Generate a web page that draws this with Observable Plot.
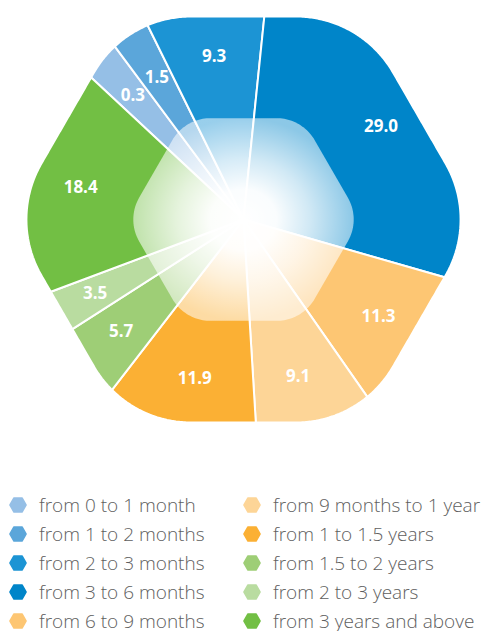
<!DOCTYPE html>
<html>
<head>
<meta charset="utf-8">
<script src="https://cdn.jsdelivr.net/npm/d3@7"></script>
<script src="https://cdn.jsdelivr.net/npm/@observablehq/plot@0.6"></script>
<style>
  body { margin: 0; background: #fff; font-family: "Open Sans", sans-serif; overflow: hidden; }
  #chart { width: 487px; height: 440px; }
  .legend { display: grid; grid-template-columns: 234px auto; grid-auto-flow: column; grid-template-rows: repeat(5, 20px);
            row-gap: 9px; margin-top: 55px; padding-left: 9px; color: #5e5e5e; font-size: 19px; font-weight: 300; line-height: 20px; }
  .item { display: flex; align-items: center; white-space: nowrap; height: 20px; }
  .item svg { flex: none; margin-right: 12px; }
</style>
</head>
<body>
<div id="chart"></div>
<div class="legend" id="legend"></div>
<script>
// ---- data ----
const categories = [
  "from 0 to 1 month", "from 1 to 2 months", "from 2 to 3 months", "from 3 to 6 months",
  "from 6 to 9 months", "from 9 months to 1 year", "from 1 to 1.5 years", "from 1.5 to 2 years",
  "from 2 to 3 years", "from 3 years and above"
];
const values = [0.3, 1.5, 9.3, 29.0, 11.3, 9.1, 11.9, 5.7, 3.5, 18.4];
const colors = [
  "#95bfe6", "#5ba6da", "#1c94d4", "#0085c9",
  "#fdc673", "#fdd597", "#fbb034", "#9ece76",
  "#b9dca0", "#72bf44"
];

// ---- layout rules ----
const minShare = 3;               // tiny slices widened so their labels fit
const startDeg = -47;             // pie rotation
const outerR = 234.4, outerCorner = 112;
const innerR = 117, innerCorner = 44;
const labelR = 166;

const data = categories.map((c, i) => ({key: c, value: values[i], color: colors[i]}));

function roundedHex(R, rc, steps = 24) {
  const d = rc / Math.sin(Math.PI / 3);
  const pts = [];
  for (let k = 0; k < 6; k++) {
    const tv = (30 + 60 * k) * Math.PI / 180;
    const cx = (R - d) * Math.sin(tv), cy = (R - d) * Math.cos(tv);
    for (let j = 0; j <= steps; j++) {
      const phi = tv - Math.PI / 6 + (Math.PI / 3) * j / steps;
      pts.push([cx + rc * Math.sin(phi), cy + rc * Math.cos(phi)]);
    }
  }
  return pts;
}

function rayRadius(poly, theta) {
  const ux = Math.sin(theta), uy = Math.cos(theta);
  let best = Infinity;
  for (let i = 0; i < poly.length; i++) {
    const [px, py] = poly[i], [qx, qy] = poly[(i + 1) % poly.length];
    const ex = qx - px, ey = qy - py;
    const det = -ux * ey + ex * uy;
    if (Math.abs(det) < 1e-12) continue;
    const t = (-px * ey + ex * py) / det;
    const s = (ux * py - uy * px) / det;
    if (t > 0 && s >= -1e-9 && s <= 1 + 1e-9 && t < best) best = t;
  }
  return best;
}

const outerPoly = roundedHex(outerR, outerCorner);
const innerPoly = roundedHex(innerR, innerCorner).map(([x, y]) => ({x, y}));

const start = startDeg * Math.PI / 180;
const arcs = d3.pie().sort(null).value(d => Math.max(d.value, minShare))
  .startAngle(start).endAngle(start + 2 * Math.PI)(data);

const slicePts = [];
const labels = [];
for (const a of arcs) {
  const n = Math.max(2, Math.ceil((a.endAngle - a.startAngle) / (0.4 * Math.PI / 180)));
  slicePts.push({key: a.data.key, color: a.data.color, x: 0, y: 0});
  for (let j = 0; j <= n; j++) {
    const th = a.startAngle + (a.endAngle - a.startAngle) * j / n;
    const r = rayRadius(outerPoly, th);
    slicePts.push({key: a.data.key, color: a.data.color, x: r * Math.sin(th), y: r * Math.cos(th)});
  }
  slicePts.push({key: a.data.key, color: a.data.color, x: 0, y: 0});
  const mid = (a.startAngle + a.endAngle) / 2;
  labels.push({x: labelR * Math.sin(mid), y: labelR * Math.cos(mid), text: a.data.value.toFixed(1)});
}

const NS = "http://www.w3.org/2000/svg";
function defsMark() {
  const defs = document.createElementNS(NS, "defs");
  const g = document.createElementNS(NS, "radialGradient");
  g.setAttribute("id", "innerGlow");
  g.setAttribute("cx", "0.5"); g.setAttribute("cy", "0.5"); g.setAttribute("r", "0.5");
  [[0, 1], [0.3, 0.98], [0.6, 0.82], [1, 0.55]].forEach(([o, a]) => {
    const s = document.createElementNS(NS, "stop");
    s.setAttribute("offset", o);
    s.setAttribute("stop-color", "#ffffff");
    s.setAttribute("stop-opacity", a);
    g.appendChild(s);
  });
  defs.appendChild(g);
  return defs;
}

const chart = Plot.plot({
  width: 487,
  height: 440,
  margin: 0,
  x: {domain: [-243, 244], axis: null},
  y: {domain: [-221, 219], axis: null},
  color: {type: "identity"},
  style: {background: "white"},
  marks: [
    defsMark,
    Plot.line(slicePts, {x: "x", y: "y", z: "key", fill: "color", stroke: "white", strokeWidth: 2}),
    Plot.line(innerPoly, {x: "x", y: "y", fill: "url(#innerGlow)", stroke: "none"}),
    Plot.text(labels, {x: "x", y: "y", text: "text", fill: "white", fontSize: 17, fontWeight: "bold",
                       fontFamily: "Open Sans"})
  ]
});
document.getElementById("chart").appendChild(chart);

// ---- legend ----
const legend = document.getElementById("legend");
categories.forEach((c, i) => {
  const item = document.createElement("div");
  item.className = "item";
  item.innerHTML = `<svg width="18" height="16" viewBox="0 0 18 16"><polygon points="1,8 5,1 13,1 17,8 13,15 5,15" fill="${colors[i]}" stroke="${colors[i]}" stroke-width="1.6" stroke-linejoin="round"/></svg><span>${c}</span>`;
  legend.appendChild(item);
});
</script>
</body>
</html>
